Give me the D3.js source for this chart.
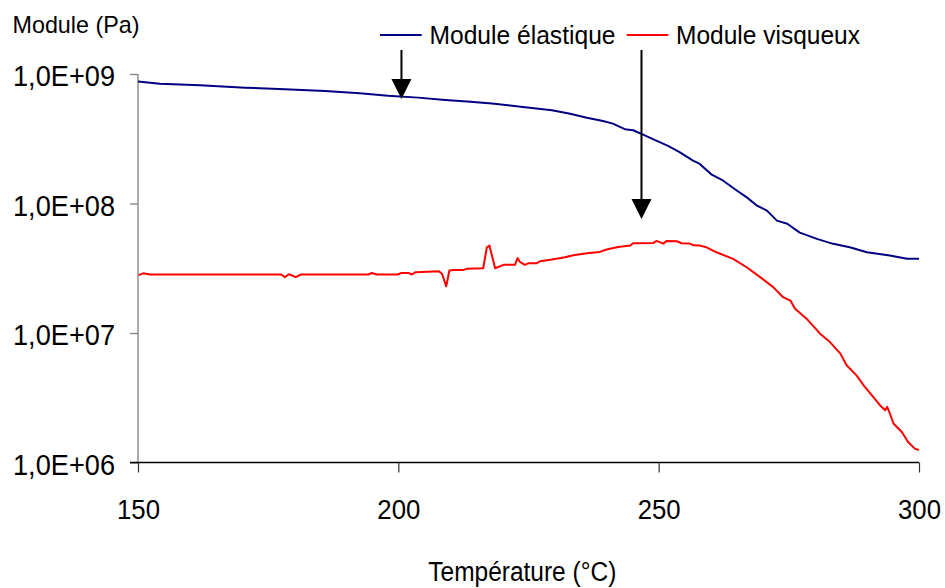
<!DOCTYPE html>
<html>
<head>
<meta charset="utf-8">
<script src="https://cdn.jsdelivr.net/npm/d3@7"></script>
<style>
  html, body { margin: 0; padding: 0; background: #fff; }
  svg { display: block; font-family: "Liberation Sans", Arial, sans-serif; }
</style>
</head>
<body>
<svg id="chart" width="945" height="588"></svg>
<script>
// ---- Data ----
const seriesNames = ["Module élastique", "Module visqueux"];
const seriesColors = ["#000080", "#FF0000"];

// Module élastique (Pa)
const elasticT = [150.0, 154.2, 161.9, 170.6, 178.2, 185.9, 192.6, 198.0, 203.8, 209.0, 213.2, 218.0, 223.9, 229.5, 233.0, 236.2, 239.3, 241.2, 243.5, 245.1, 246.8, 248.9, 251.8, 254.1, 256.6, 257.9, 260.2, 262.4, 265.0, 267.0, 268.9, 270.8, 272.7, 274.7, 277.1, 280.4, 283.5, 286.7, 290.0, 294.4, 297.7, 300.0];
const elasticG = [8.75e8, 8.42e8, 8.18e8, 7.84e8, 7.63e8, 7.40e8, 7.10e8, 6.80e8, 6.57e8, 6.31e8, 6.12e8, 5.91e8, 5.57e8, 5.25e8, 4.94e8, 4.60e8, 4.34e8, 4.14e8, 3.75e8, 3.68e8, 3.43e8, 3.14e8, 2.79e8, 2.48e8, 2.14e8, 2.02e8, 1.67e8, 1.50e8, 1.26e8, 1.11e8, 9.62e7, 8.81e7, 7.37e7, 6.98e7, 5.96e7, 5.33e7, 4.88e7, 4.59e7, 4.20e7, 3.97e7, 3.74e7, 3.74e7];

// Module visqueux (Pa)
const viscousT = [150.1, 151.0, 152.3, 177.5, 178.2, 179.0, 180.3, 181.3, 194.3, 194.9, 195.9, 199.9, 200.6, 201.9, 202.6, 203.3, 207.8, 208.4, 209.2, 209.8, 210.6, 212.5, 213.1, 216.3, 217.0, 217.5, 217.9, 218.6, 220.2, 222.4, 222.9, 223.4, 224.3, 225.0, 226.6, 227.2, 229.5, 232.0, 233.6, 236.2, 238.7, 240.0, 242.2, 244.5, 245.1, 249.0, 249.6, 250.9, 251.5, 253.5, 254.4, 256.0, 256.7, 257.9, 259.2, 261.1, 264.3, 266.9, 269.5, 272.0, 273.9, 275.3, 276.2, 278.4, 281.0, 282.9, 284.9, 286.1, 288.0, 289.6, 291.2, 292.5, 293.5, 293.9, 294.4, 295.1, 296.7, 297.9, 299.2, 300.0];
const viscousG = [2.80e7, 2.89e7, 2.83e7, 2.83e7, 2.70e7, 2.84e7, 2.70e7, 2.83e7, 2.83e7, 2.91e7, 2.83e7, 2.83e7, 2.91e7, 2.91e7, 2.83e7, 2.95e7, 3.00e7, 2.86e7, 2.29e7, 3.04e7, 3.07e7, 3.07e7, 3.13e7, 3.16e7, 4.59e7, 4.73e7, 4.08e7, 3.16e7, 3.36e7, 3.36e7, 3.79e7, 3.52e7, 3.36e7, 3.46e7, 3.46e7, 3.58e7, 3.69e7, 3.84e7, 3.98e7, 4.13e7, 4.23e7, 4.41e7, 4.62e7, 4.73e7, 4.93e7, 4.96e7, 5.14e7, 4.90e7, 5.14e7, 5.11e7, 4.93e7, 4.90e7, 4.75e7, 4.73e7, 4.59e7, 4.20e7, 3.74e7, 3.22e7, 2.70e7, 2.26e7, 1.89e7, 1.78e7, 1.54e7, 1.29e7, 9.88e6, 8.51e6, 6.93e6, 5.63e6, 4.71e6, 3.83e6, 3.21e6, 2.77e6, 2.53e6, 2.69e6, 2.39e6, 2.00e6, 1.72e6, 1.44e6, 1.28e6, 1.25e6];

// Axes
const xTicks = [150, 200, 250, 300];
const yTicks = [1e6, 1e7, 1e8, 1e9];
const yTickLabels = ["1,0E+06", "1,0E+07", "1,0E+08", "1,0E+09"];
const xTitle = "Température (°C)";
const yTitle = "Module (Pa)";

// Annotation arrows (temperature, modulus at tip)
const arrowT = [200.6, 246.7];
const arrowTip = [6.4e8, 7.6e7];

// ---- Drawing ----
const FONT = '"Liberation Sans", Arial, sans-serif';
const svg = d3.select("#chart");
const x = d3.scaleLinear().domain([150, 300]).range([138, 919]);
const y = d3.scaleLog().domain([1e6, 1e9]).range([462.5, 74]);

// Y axis (gray line)
const yAxis = svg.append("g")
  .attr("transform", `translate(${x(150)},0)`)
  .call(d3.axisLeft(y).tickValues(yTicks).tickSize(8).tickFormat(""));
yAxis.select(".domain").attr("stroke", "#808080").attr("stroke-width", 1.3)
  .attr("d", `M0,${y(1e9)}V${y(1e6)}`);
yAxis.selectAll(".tick line").attr("stroke", "#808080").attr("stroke-width", 1.3);

yAxis.selectAll(".tick").append("text")
  .attr("x", -23).attr("y", 11.5)
  .attr("text-anchor", "end")
  .attr("fill", "#000")
  .style("font-size", "29px")
  .style("font-family", FONT)
  .attr("textLength", 102).attr("lengthAdjust", "spacingAndGlyphs")
  .text(d => yTickLabels[yTicks.indexOf(d)]);

// X axis (black)
const xAxis = svg.append("g")
  .attr("transform", `translate(0,${y(1e6)})`)
  .call(d3.axisBottom(x).tickValues(xTicks).tickSize(10).tickFormat(""));
xAxis.select(".domain").attr("stroke", "#000").attr("stroke-width", 1.3)
  .attr("d", `M${x(150) - 8},0H${x(300)}`);
xAxis.selectAll(".tick line").attr("stroke", "#333").attr("stroke-width", 1.2);
xAxis.selectAll(".tick").append("text")
  .attr("y", 56.5)
  .attr("text-anchor", "middle")
  .attr("fill", "#000")
  .style("font-size", "28.5px")
  .style("font-family", FONT)
  .attr("textLength", 43).attr("lengthAdjust", "spacingAndGlyphs")
  .text(d => d);

// Axis titles
svg.append("text").attr("x", 12.5).attr("y", 32.5)
  .style("font-size", "24px").attr("fill", "#000")
  .attr("textLength", 127).attr("lengthAdjust", "spacingAndGlyphs")
  .text(yTitle);
svg.append("text").attr("x", 428.3).attr("y", 581)
  .style("font-size", "27px").attr("fill", "#000")
  .attr("textLength", 188).attr("lengthAdjust", "spacingAndGlyphs")
  .text(xTitle);

// Lines
const line = d3.line().x(d => x(d[0])).y(d => y(d[1])).curve(d3.curveLinear);
const elasticData = elasticT.map((t, i) => [t, elasticG[i]]);
const viscousData = viscousT.map((t, i) => [t, viscousG[i]]);
[elasticData, viscousData].forEach((dat, i) => {
  svg.append("path").datum(dat)
    .attr("fill", "none")
    .attr("stroke", seriesColors[i])
    .attr("stroke-width", 2)
    .attr("stroke-linejoin", "round")
    .attr("d", line);
});

// Legend
const legendLineX = [[380, 421.7], [626.7, 668.3]];
const legendTextX = [429.5, 676];
const legendTextW = [186, 184];
seriesNames.forEach((name, i) => {
  svg.append("line")
    .attr("x1", legendLineX[i][0]).attr("x2", legendLineX[i][1])
    .attr("y1", 35).attr("y2", 35)
    .attr("stroke", seriesColors[i]).attr("stroke-width", 2);
  svg.append("text")
    .attr("x", legendTextX[i]).attr("y", 43.5)
    .style("font-size", "26.5px").attr("fill", "#000")
    .attr("textLength", legendTextW[i]).attr("lengthAdjust", "spacingAndGlyphs")
    .text(name);
});

// Arrows
arrowT.forEach((t, i) => {
  const ax = x(t), tip = y(arrowTip[i]);
  svg.append("line")
    .attr("x1", ax).attr("x2", ax).attr("y1", 50).attr("y2", tip - 18)
    .attr("stroke", "#000").attr("stroke-width", 2);
  svg.append("path")
    .attr("d", `M${ax - 10},${tip - 20}L${ax + 10},${tip - 20}L${ax},${tip}Z`)
    .attr("fill", "#000");
});
</script>
</body>
</html>
